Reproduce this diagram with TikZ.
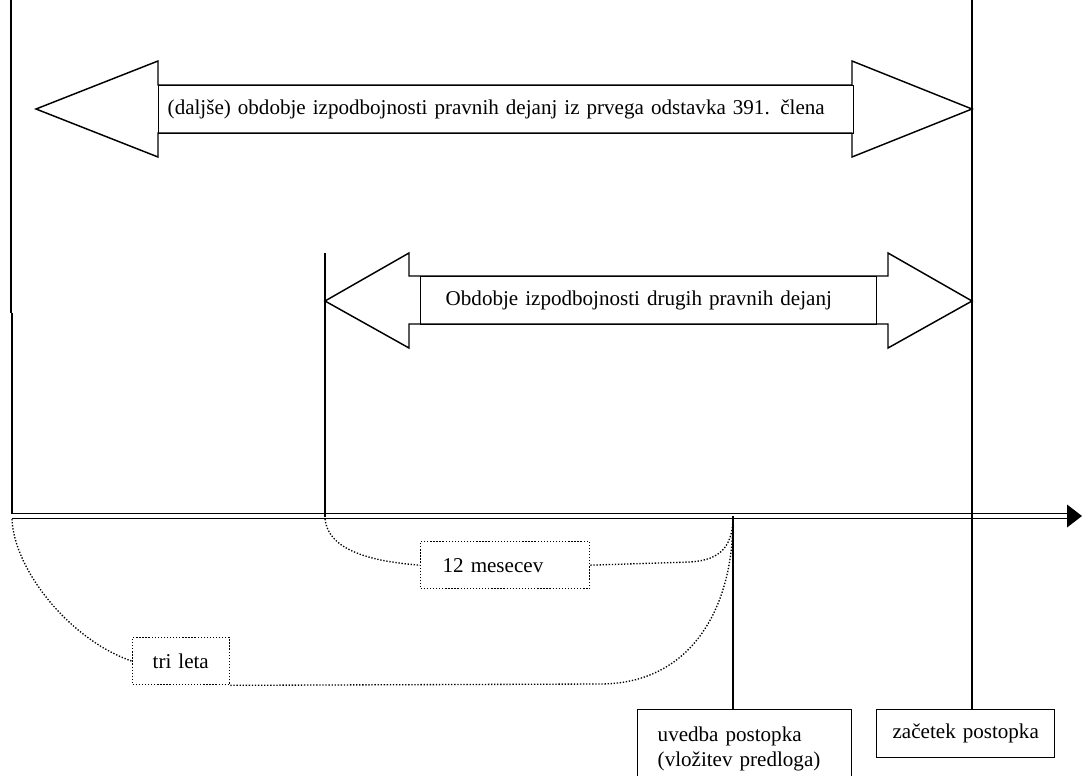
\documentclass[tikz,border=0pt]{standalone}
\usepackage{fontspec}
\setmainfont{Liberation Serif}
\begin{document}
\begin{tikzpicture}[x=0.75pt,y=-0.75pt,
  ln/.style={line width=1.1pt, line join=miter},
  dotl/.style={line width=1pt, dash pattern=on 1pt off 1.3pt},
  tbox/.style={draw, line width=1.1pt, anchor=north west, align=left, inner ysep=0pt,
    font=\fontsize{15.8}{18.75}\selectfont},
  dbox/.style={tbox, line width=1pt, dash pattern=on 1pt off 1.3pt}
]
\useasboundingbox (0,0) rectangle (1082,775);

% coordinates
\coordinate (LT) at (11,0);
\coordinate (LM) at (11,313);
\coordinate (LK) at (12,313);
\coordinate (T0) at (12,516);
\coordinate (TA) at (1069,516);
\coordinate (TIP) at (1082,516);
\coordinate (M0) at (325,253);
\coordinate (M1) at (325,517);
\coordinate (RT) at (972,0);
\coordinate (U0) at (733,516);
\coordinate (U1) at (733,519);
\coordinate (L1) at (12,519);
\coordinate (M2) at (325,519);

% timeline
\draw[line width=1.1pt, double, double distance=2.6pt] (T0) -- (TA);
\fill (1067,504.5) -- (TIP) -- (1067,527.5) -- cycle;

% big arrows
\draw[ln] (36,109) -- (158,61) -- (158,85) -- (852,85) -- (852,61) -- (972,109)
  -- (852,157) -- (852,133) -- (158,133) -- (158,157) -- cycle;
\draw[ln] (325,301) -- (409,253) -- (409,276) -- (888,276) -- (888,253) -- (972,301)
  -- (888,348) -- (888,324) -- (409,324) -- (409,348) -- cycle;

\node[tbox, minimum width=521.25pt, minimum height=36pt, text width=507.75pt, inner xsep=6.75pt]
  (A1) at (158,85) {(daljše) obdobje izpodbojnosti pravnih dejanj iz prvega odstavka 391. člena};
\node[tbox, minimum width=342pt, minimum height=36pt, text width=304.5pt, inner xsep=18.75pt]
  (A2) at (420,276) {Obdobje izpodbojnosti drugih pravnih dejanj};

% bottom boxes
\node[tbox, minimum width=160.5pt, text width=130.5pt, inner xsep=15pt, inner ysep=12.5pt]
  (uvd) at (637,709) {uvedba postopka\\(vložitev predloga)};
\node[tbox, align=center, minimum width=133.5pt, minimum height=36pt, text width=121.5pt, inner xsep=6pt]
  (zac) at (876,709) {začetek postopka};

% dotted boxes
\node[dbox, minimum width=126.75pt, minimum height=35.25pt, text width=93.75pt, inner xsep=16.5pt]
  (mes) at (420,541) {12 mesecev};
\node[dbox, minimum width=72.75pt, minimum height=35.25pt, text width=42.75pt, inner xsep=15pt]
  (tri) at (132,637) {tri leta};

% vertical lines
\draw[ln] (LT) -- (LM);
\draw[line width=2.2pt] (LK) -- (12,514);
\draw[ln] (M0) -- (M1);
\draw[ln] (RT) -- (zac.north -| RT);
\draw[ln] (U0) -- (uvd.north -| U0);

% dotted connectors
\draw[dotl] (L1) .. controls (14,570) and (70,640) .. (tri.west);
\draw[dotl] (tri.south east) -- (600,684) .. controls (690,684) and (733,610) .. (U1);
\draw[dotl] (M2) .. controls (328,548) and (365,561) .. (mes.west);
\draw[dotl] (mes.east) -- (690,562) .. controls (722,560) and (732,545) .. (U1);
\end{tikzpicture}
\end{document}
